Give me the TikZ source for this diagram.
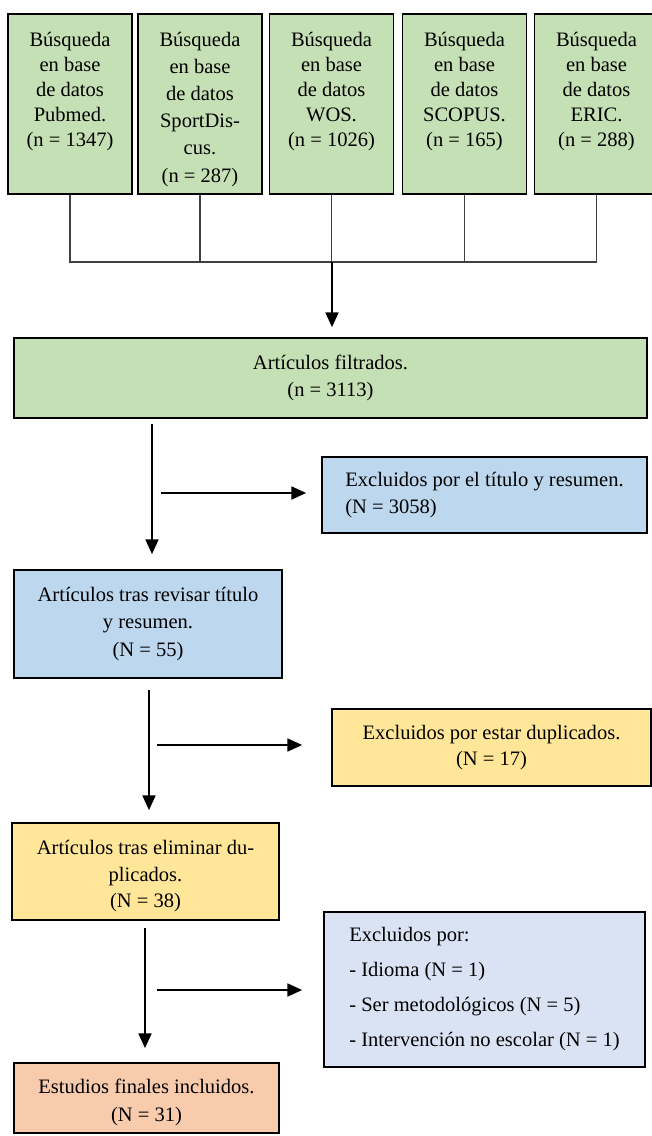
\documentclass[tikz,border=0pt]{standalone}
\usepackage{fontspec}
\setmainfont{Liberation Serif}
\usetikzlibrary{arrows.meta}
\definecolor{cgreen}{HTML}{C5E0B4}
\definecolor{cblue}{HTML}{BDD7EE}
\definecolor{cyellow}{HTML}{FFE699}
\definecolor{clav}{HTML}{DAE3F3}
\definecolor{cpeach}{HTML}{F8CBAD}
\definecolor{ctree}{HTML}{404040}
\tikzset{
  box/.style={draw=black, line width=1.3pt, inner sep=0pt, align=center, rectangle},
  topbox/.style={box, fill=cgreen, minimum width=93pt, minimum height=135pt},
  toptext/.style={inner sep=0pt, align=center, anchor=north, font=\fontsize{15.4pt}{18.9pt}\selectfont},
  txt/.style={font=\fontsize{15.4pt}{20pt}\selectfont},
  tree/.style={draw=ctree, line width=0.8pt},
  arr/.style={draw=black, line width=1.25pt, -{Triangle[length=11pt,width=9.75pt]}},
}
\begin{document}
\begin{tikzpicture}[x=0.75pt, y=-0.75pt]
\useasboundingbox (0,0) rectangle (652,1136);
% top boxes
\node[topbox] (b1) at (70,104) {};
\node[topbox] (b2) at (200,104) {};
\node[topbox] (b3) at (331.5,104) {};
\node[topbox] (b4) at (464.5,104) {};
\node[topbox] (b5) at (596.5,104) {};
\node[toptext] (t1) at (70,31.5) {Búsqueda\\en base\\de datos\\Pubmed.\\(n = 1347)};
\node[toptext, font=\fontsize{15.4pt}{20.4pt}\selectfont] (t2) at (200,31.5) {Búsqueda\\en base\\de datos\\SportDis-\\cus.\\(n = 287)};
\node[toptext] (t3) at (331.5,31.5) {Búsqueda\\en base\\de datos\\WOS.\\(n = 1026)};
\node[toptext] (t4) at (464.5,31.5) {Búsqueda\\en base\\de datos\\SCOPUS.\\(n = 165)};
\node[toptext] (t5) at (596.5,31.5) {Búsqueda\\en base\\de datos\\ERIC.\\(n = 288)};
% main boxes
\node[box, txt, fill=cgreen, minimum width=474.75pt, minimum height=60pt] (filt) at (330.5,378) {Artículos filtrados.\\(n = 3113)};
\node[box, txt, fill=cblue, minimum width=243.75pt, minimum height=57pt, align=left] (excl1) at (484.5,495) {Excluidos por el título y resumen.\\(N = 3058)};
\node[box, fill=cblue, minimum width=201pt, minimum height=81pt, font=\fontsize{15.4pt}{20.6pt}\selectfont] (rev) at (148,624) {Artículos tras revisar título\\y resumen.\\(N = 55)};
\node[box, txt, fill=cyellow, minimum width=239.25pt, minimum height=57.75pt] (excl2) at (491.5,747.5) {Excluidos por estar duplicados.\\(N = 17)};
\node[box, txt, fill=cyellow, minimum width=200.25pt, minimum height=72.75pt] (elim) at (145.5,871.5) {\rule{0pt}{18pt}Artículos tras eliminar du-\\plicados.\\(N = 38)};
\node[box, fill=clav, minimum width=240.75pt, minimum height=116.25pt, align=left, font=\fontsize{15.4pt}{26.25pt}\selectfont] (excl3) at (484.5,989.5) {Excluidos por:\\- Idioma (N = 1)\\- Ser metodológicos (N = 5)\\- Intervención no escolar (N = 1)};
\node[box, fill=cpeach, minimum width=198.75pt, minimum height=52.5pt, font=\fontsize{15.4pt}{21pt}\selectfont] (final) at (146.5,1098) {\rule{0pt}{18pt}Estudios finales incluidos.\\(N = 31)};
% tree connectors
\coordinate (j) at (332,262);
\draw[tree] (b1.south) |- (j);
\draw[tree] (b2.south) |- (j);
\draw[tree] (b3.south) -- (b3.south |- j);
\draw[tree] (b4.south) |- (j);
\draw[tree] (b5.south) |- (j);
\draw[arr, shorten >=7.5pt] (j) -- (j |- filt.north);
% down arrows
\coordinate (d1) at (152,424);
\coordinate (d2) at (149,690);
\coordinate (d3) at (145,928);
\draw[arr, shorten >=11.25pt] (d1) -- (d1 |- rev.north);
\draw[arr, shorten >=9pt] (d2) -- (d2 |- elim.north);
\draw[arr, shorten >=10.5pt] (d3) -- (d3 |- final.north);
% side arrows
\coordinate (h1) at (161,493);
\coordinate (h2) at (157,745);
\coordinate (h3) at (157,990);
\draw[arr, shorten >=11.25pt] (h1) -- (h1 -| excl1.west);
\draw[arr, shorten >=21.75pt] (h2) -- (h2 -| excl2.west);
\draw[arr, shorten >=15.75pt] (h3) -- (h3 -| excl3.west);
\end{tikzpicture}
\end{document}
